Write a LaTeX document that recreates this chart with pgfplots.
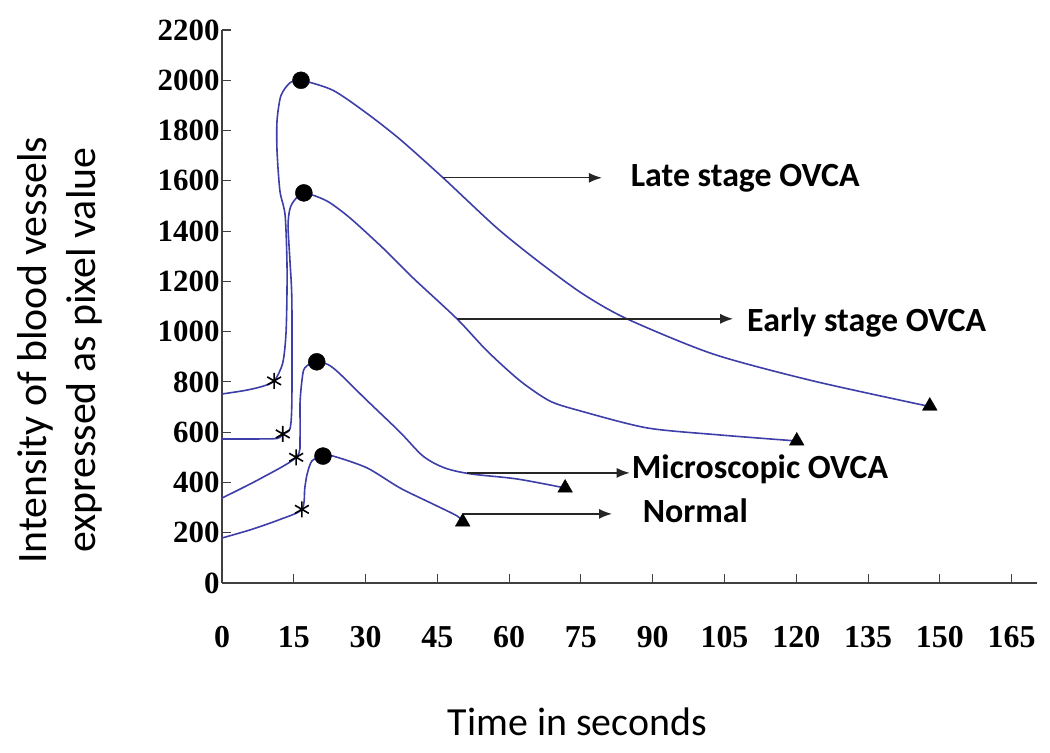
\documentclass[border=0pt]{standalone}
\usepackage{fontspec}
\setmainfont{Liberation Serif}
\newfontfamily\calfont{Carlito}
\usepackage{pgfplots}
\pgfplotsset{compat=1.18}
\usetikzlibrary{arrows.meta}
\definecolor{curve}{RGB}{62,62,168}
\begin{document}
\begin{tikzpicture}
\useasboundingbox (-222bp,-170bp) rectangle (828bp,583bp);
\begin{axis}[
  scale only axis, width=815bp, height=553bp,
  at={(0,0)}, anchor=south west,
  xmin=0, xmax=170.3, ymin=0, ymax=2200,
  axis x line*=bottom, axis y line*=left,
  axis line style={line width=1.3bp, black!75},
  xtick={0,15,...,165}, ytick={0,200,...,2200},
  tick align=inside, major tick length=9bp,
  tick style={line width=1.1bp, black!75},
  scaled ticks=false,
  /pgf/number format/1000 sep={},
  /pgf/number format/assume math mode=true,
  yticklabel style={font=\bfseries\fontsize{31}{31}\selectfont, anchor=east, xshift=1bp},
  xticklabel style={font=\bfseries\fontsize{32}{32}\selectfont, anchor=center, yshift=-54bp},
  clip=false,
  every axis y label/.style={at={(axis description cs:-0.199,0.421)}, rotate=90, anchor=center, align=center, font=\calfont\fontsize{42}{50}\selectfont},
  every axis x label/.style={at={(axis description cs:0.436,-0.251)}, anchor=center, font=\calfont\fontsize{40}{40}\selectfont},
  ylabel={Intensity of blood vessels\\expressed as pixel value},
  xlabel={Time in seconds},
]
% Late stage OVCA
\addplot[curve, line width=1.6bp, smooth, tension=0.45] coordinates {
(0,752)(4.8,766)(8.4,782)(10.9,804)(12.7,876)(13.4,1003)(13.6,1242)(13.2,1461)(12.1,1560)(11.5,1719)(11.5,1839)(12.3,1938)(14.2,1990)(16.5,2000)
(23.2,1960)(30.3,1868)(37.2,1765)(46.2,1612)(57.4,1413)(66.4,1275)(75.4,1150)(84.6,1051)(102.6,911)(123.5,804)(147.9,702)};
% Early stage OVCA
\addplot[curve, line width=1.6bp, smooth, tension=0.45] coordinates {
(0,573)(6,573)(11.5,575)(12.7,593)(14.2,613)(14.6,724)(14.6,1122)(14.2,1282)(13.8,1421)(14.2,1489)(15.2,1524)(17.1,1552)
(21.9,1520)(26.7,1453)(33.6,1333)(39.9,1214)(49.1,1051)(55.4,923)(62.3,804)(68.5,724)(74.8,685)(88.8,617)(104,589)(120.1,565)};
% Microscopic OVCA
\addplot[curve, line width=1.6bp, smooth, tension=0.5] coordinates {
(0,338)(7.9,414)(15.5,500)(16.3,577)(16.3,712)(16.7,804)(17.3,856)(19.8,880)
(23.2,856)(30.3,726)(37.2,600)(42.0,505)(46.5,458)(52.0,434)(61.6,414)(71.7,378)};
% Normal
\addplot[curve, line width=1.6bp, smooth, tension=0.45] coordinates {
(0,179)(6,212)(12,252)(16.7,293)(17.3,378)(17.8,434)(18.8,486)(21.1,505)
(23.2,505)(30.3,458)(37.2,378)(44.1,314)(49.1,267)(50.3,243)};
% markers
\addplot[only marks, mark=asterisk, mark size=8bp, mark options={line width=1.6bp, black}] coordinates {(10.9,804)(12.7,593)(15.5,500)(16.7,293)};
\addplot[only marks, mark=*, mark size=8.5bp, mark options={black, fill=black}] coordinates {(16.5,2000)(17.1,1552)(19.8,880)(21.1,505)};
\addplot[only marks, mark=triangle*, mark size=8.5bp, mark options={black, fill=black}] coordinates {(147.9,704)(120.1,565)(71.7,378)(50.3,243)};
% annotations
\draw[line width=1.4bp, black!85, -{Latex[length=13bp,width=10bp]}] (axis cs:46.2,1612) -- (axis cs:79.4,1612);
\draw[line width=1.4bp, black!85, -{Latex[length=13bp,width=10bp]}] (axis cs:49.1,1051) -- (axis cs:106.8,1051);
\draw[line width=1.4bp, black!85, -{Latex[length=13bp,width=10bp]}] (axis cs:51.2,438) -- (axis cs:85.2,438);
\draw[line width=1.4bp, black!85, -{Latex[length=13bp,width=10bp]}] (axis cs:50.3,275) -- (axis cs:81.5,275);
\node[anchor=west, inner sep=0pt, font=\calfont\bfseries\fontsize{34}{34}\selectfont] at (axis cs:85.4,1612) {Late stage OVCA};
\node[anchor=west, inner sep=0pt, font=\calfont\bfseries\fontsize{34}{34}\selectfont] at (axis cs:109.7,1035) {Early stage OVCA};
\node[anchor=west, inner sep=0pt, font=\calfont\bfseries\fontsize{34}{34}\selectfont] at (axis cs:85.6,454) {Microscopic OVCA};
\node[anchor=west, inner sep=0pt, font=\calfont\bfseries\fontsize{34}{34}\selectfont] at (axis cs:87.9,287) {Normal};
\end{axis}
\end{tikzpicture}
\end{document}
